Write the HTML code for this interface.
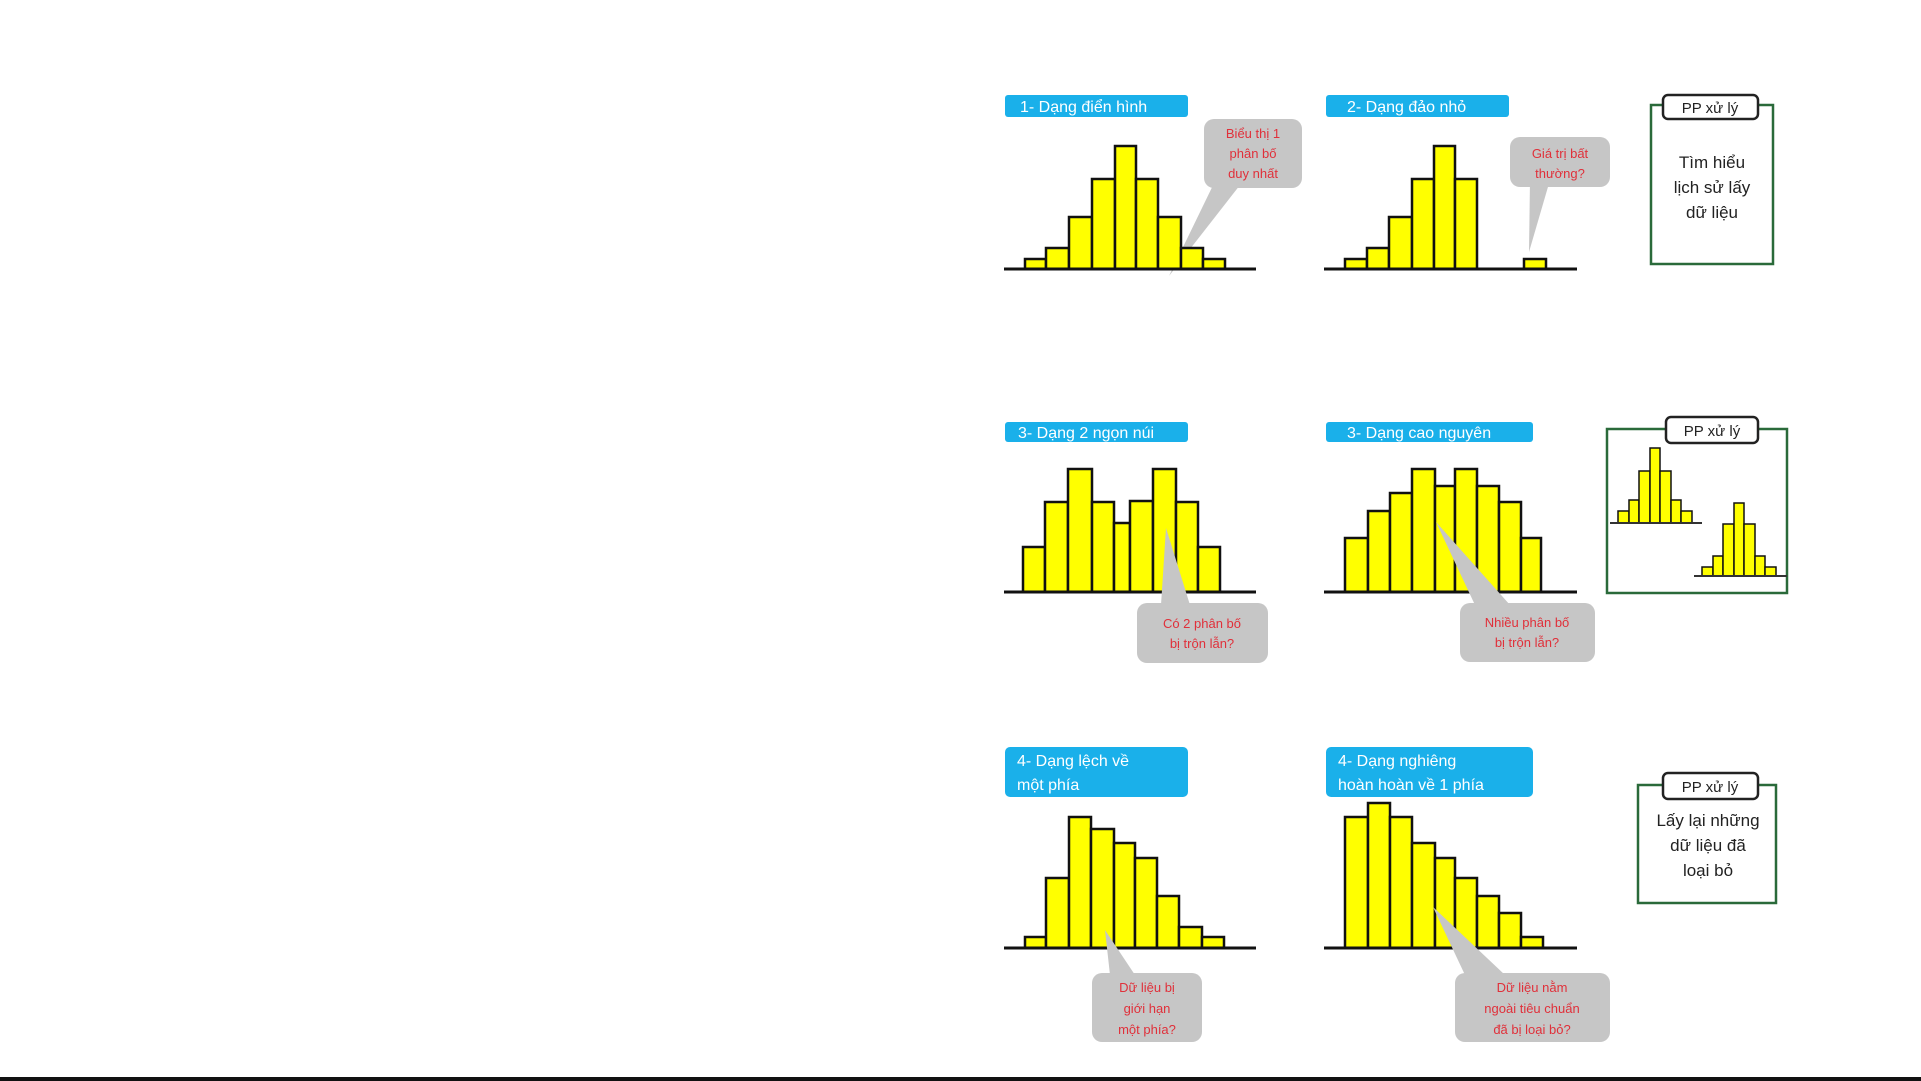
<!DOCTYPE html>
<html><head><meta charset="utf-8"><style>
html,body{margin:0;padding:0;background:#fff;}
svg{display:block;}
.lb{font-family:"Liberation Sans",sans-serif;font-size:16px;fill:#fff;}
.rd{font-family:"Liberation Sans",sans-serif;font-size:13px;fill:#e0303a;text-anchor:middle;}
.bk{font-family:"Liberation Sans",sans-serif;font-size:17px;fill:#222;text-anchor:middle;}
.tg{font-family:"Liberation Sans",sans-serif;font-size:15px;fill:#222;text-anchor:middle;}
.b{fill:#ffff00;stroke:#111;stroke-width:2.5;}
.bs{fill:#ffff00;stroke:#111;stroke-width:1.5;}
.base{stroke:#111;stroke-width:3;}
.co{fill:#c6c6c6;}
</style></head><body>
<svg width="1921" height="1081" viewBox="0 0 1921 1081" xmlns="http://www.w3.org/2000/svg">
<rect width="1921" height="1081" fill="#fff"/>

<!-- Chart 1 -->
<rect x="1005" y="95" width="183" height="22" rx="3" fill="#1ab0ea"/>
<text class="lb" x="1020" y="112">1- Dạng điển hình</text>
<polygon class="co" points="1218,175 1240,185 1169,276"/>
<rect class="co" x="1204" y="119" width="98" height="69" rx="10"/>
<text class="rd" x="1253" y="138">Biểu thị 1</text>
<text class="rd" x="1253" y="158">phân bố</text>
<text class="rd" x="1253" y="178">duy nhất</text>
<rect class="b" x="1025" y="259" width="21" height="10"/>
<rect class="b" x="1046" y="248" width="23" height="21"/>
<rect class="b" x="1069" y="217" width="23" height="52"/>
<rect class="b" x="1092" y="179" width="23" height="90"/>
<rect class="b" x="1115" y="146" width="21" height="123"/>
<rect class="b" x="1136" y="179" width="22" height="90"/>
<rect class="b" x="1158" y="217" width="23" height="52"/>
<rect class="b" x="1181" y="248" width="22" height="21"/>
<rect class="b" x="1203" y="259" width="22" height="10"/>
<line class="base" x1="1004" y1="269" x2="1256" y2="269"/>

<!-- Chart 2 -->
<rect x="1326" y="95" width="183" height="22" rx="3" fill="#1ab0ea"/>
<text class="lb" x="1347" y="112">2- Dạng đảo nhỏ</text>
<polygon class="co" points="1530,180 1550,180 1529,252"/>
<rect class="co" x="1510" y="137" width="100" height="50" rx="10"/>
<text class="rd" x="1560" y="158">Giá trị bất</text>
<text class="rd" x="1560" y="178">thường?</text>
<rect class="b" x="1345" y="259" width="22" height="10"/>
<rect class="b" x="1367" y="248" width="22" height="21"/>
<rect class="b" x="1389" y="217" width="23" height="52"/>
<rect class="b" x="1412" y="179" width="22" height="90"/>
<rect class="b" x="1434" y="146" width="21" height="123"/>
<rect class="b" x="1455" y="179" width="22" height="90"/>
<rect class="b" x="1524" y="259" width="22" height="10"/>
<line class="base" x1="1324" y1="269" x2="1577" y2="269"/>

<!-- PP box 1 -->
<rect x="1651" y="105" width="122" height="159" fill="#fff" stroke="#2a6a3a" stroke-width="2.5"/>
<rect x="1663" y="95" width="95" height="24" rx="5" fill="#fff" stroke="#222" stroke-width="2.5"/>
<text class="tg" x="1710" y="113">PP xử lý</text>
<text class="bk" x="1712" y="168">Tìm hiểu</text>
<text class="bk" x="1712" y="193">lịch sử lấy</text>
<text class="bk" x="1712" y="218">dữ liệu</text>

<!-- Chart 3 -->
<rect x="1005" y="422" width="183" height="20" rx="3" fill="#1ab0ea"/>
<text class="lb" x="1018" y="438">3- Dạng 2 ngọn núi</text>
<rect class="b" x="1023" y="547" width="22" height="45"/>
<rect class="b" x="1045" y="502" width="23" height="90"/>
<rect class="b" x="1068" y="469" width="24" height="123"/>
<rect class="b" x="1092" y="502" width="22" height="90"/>
<rect class="b" x="1114" y="523" width="16" height="69"/>
<rect class="b" x="1130" y="501" width="23" height="91"/>
<rect class="b" x="1153" y="469" width="23" height="123"/>
<rect class="b" x="1176" y="502" width="22" height="90"/>
<rect class="b" x="1198" y="547" width="22" height="45"/>
<line class="base" x1="1004" y1="592" x2="1256" y2="592"/>
<polygon class="co" points="1161,605 1190,605 1166,528"/>
<rect class="co" x="1137" y="603" width="131" height="60" rx="10"/>
<text class="rd" x="1202" y="628">Có 2 phân bố</text>
<text class="rd" x="1202" y="648">bị trộn lẫn?</text>

<!-- Chart 4 -->
<rect x="1326" y="422" width="207" height="20" rx="3" fill="#1ab0ea"/>
<text class="lb" x="1347" y="438">3- Dạng cao nguyên</text>
<rect class="b" x="1345" y="538" width="23" height="54"/>
<rect class="b" x="1368" y="511" width="22" height="81"/>
<rect class="b" x="1390" y="493" width="22" height="99"/>
<rect class="b" x="1412" y="469" width="23" height="123"/>
<rect class="b" x="1435" y="486" width="20" height="106"/>
<rect class="b" x="1455" y="469" width="22" height="123"/>
<rect class="b" x="1477" y="486" width="22" height="106"/>
<rect class="b" x="1499" y="502" width="22" height="90"/>
<rect class="b" x="1521" y="538" width="20" height="54"/>
<line class="base" x1="1324" y1="592" x2="1577" y2="592"/>
<polygon class="co" points="1475,605 1510,605 1436,522"/>
<rect class="co" x="1460" y="603" width="135" height="59" rx="10"/>
<text class="rd" x="1527" y="627">Nhiều phân bố</text>
<text class="rd" x="1527" y="647">bị trộn lẫn?</text>

<!-- PP box 2 -->
<rect x="1607" y="429" width="180" height="164" fill="#fff" stroke="#2a6a3a" stroke-width="2.5"/>
<rect x="1666" y="417" width="92" height="26" rx="5" fill="#fff" stroke="#222" stroke-width="2.5"/>
<text class="tg" x="1712" y="436">PP xử lý</text>
<rect class="bs" x="1618" y="511" width="11" height="12"/>
<rect class="bs" x="1629" y="500" width="10" height="23"/>
<rect class="bs" x="1639" y="471" width="11" height="52"/>
<rect class="bs" x="1650" y="448" width="10" height="75"/>
<rect class="bs" x="1660" y="471" width="11" height="52"/>
<rect class="bs" x="1671" y="500" width="10" height="23"/>
<rect class="bs" x="1681" y="511" width="11" height="12"/>
<line stroke="#333" stroke-width="2" x1="1610" y1="523" x2="1702" y2="523"/>
<rect class="bs" x="1702" y="567" width="11" height="9"/>
<rect class="bs" x="1713" y="556" width="10" height="20"/>
<rect class="bs" x="1723" y="524" width="11" height="52"/>
<rect class="bs" x="1734" y="503" width="10" height="73"/>
<rect class="bs" x="1744" y="524" width="11" height="52"/>
<rect class="bs" x="1755" y="556" width="10" height="20"/>
<rect class="bs" x="1765" y="567" width="11" height="9"/>
<line stroke="#333" stroke-width="2" x1="1694" y1="576" x2="1787" y2="576"/>

<!-- Chart 5 -->
<rect x="1005" y="747" width="183" height="50" rx="5" fill="#1ab0ea"/>
<text class="lb" x="1017" y="766">4- Dạng lệch về</text>
<text class="lb" x="1017" y="790">một phía</text>
<rect class="b" x="1025" y="937" width="21" height="11"/>
<rect class="b" x="1046" y="878" width="23" height="70"/>
<rect class="b" x="1069" y="817" width="22" height="131"/>
<rect class="b" x="1091" y="829" width="23" height="119"/>
<rect class="b" x="1114" y="843" width="21" height="105"/>
<rect class="b" x="1135" y="858" width="22" height="90"/>
<rect class="b" x="1157" y="896" width="22" height="52"/>
<rect class="b" x="1179" y="927" width="23" height="21"/>
<rect class="b" x="1202" y="937" width="22" height="11"/>
<line class="base" x1="1004" y1="948" x2="1256" y2="948"/>
<polygon class="co" points="1110,975 1135,975 1105,930"/>
<rect class="co" x="1092" y="973" width="110" height="69" rx="10"/>
<text class="rd" x="1147" y="992">Dữ liệu bị</text>
<text class="rd" x="1147" y="1013">giới hạn</text>
<text class="rd" x="1147" y="1034">một phía?</text>

<!-- Chart 6 -->
<rect x="1326" y="747" width="207" height="50" rx="5" fill="#1ab0ea"/>
<text class="lb" x="1338" y="766">4- Dạng nghiêng</text>
<text class="lb" x="1338" y="790">hoàn hoàn về 1 phía</text>
<rect class="b" x="1345" y="817" width="23" height="131"/>
<rect class="b" x="1368" y="803" width="22" height="145"/>
<rect class="b" x="1390" y="817" width="22" height="131"/>
<rect class="b" x="1412" y="843" width="23" height="105"/>
<rect class="b" x="1435" y="858" width="20" height="90"/>
<rect class="b" x="1455" y="878" width="22" height="70"/>
<rect class="b" x="1477" y="896" width="22" height="52"/>
<rect class="b" x="1499" y="913" width="22" height="35"/>
<rect class="b" x="1521" y="937" width="22" height="11"/>
<line class="base" x1="1324" y1="948" x2="1577" y2="948"/>
<polygon class="co" points="1465,975 1505,975 1433,907"/>
<rect class="co" x="1455" y="973" width="155" height="69" rx="10"/>
<text class="rd" x="1532" y="992">Dữ liệu nằm</text>
<text class="rd" x="1532" y="1013">ngoài tiêu chuẩn</text>
<text class="rd" x="1532" y="1034">đã bị loại bỏ?</text>

<!-- PP box 3 -->
<rect x="1638" y="785" width="138" height="118" fill="#fff" stroke="#2a6a3a" stroke-width="2.5"/>
<rect x="1663" y="773" width="95" height="26" rx="5" fill="#fff" stroke="#222" stroke-width="2.5"/>
<text class="tg" x="1710" y="792">PP xử lý</text>
<text class="bk" x="1708" y="826">Lấy lại những</text>
<text class="bk" x="1708" y="851">dữ liệu đã</text>
<text class="bk" x="1708" y="876">loại bỏ</text>

<rect x="0" y="1077" width="1921" height="4" fill="#111"/>
</svg>
</body></html>
